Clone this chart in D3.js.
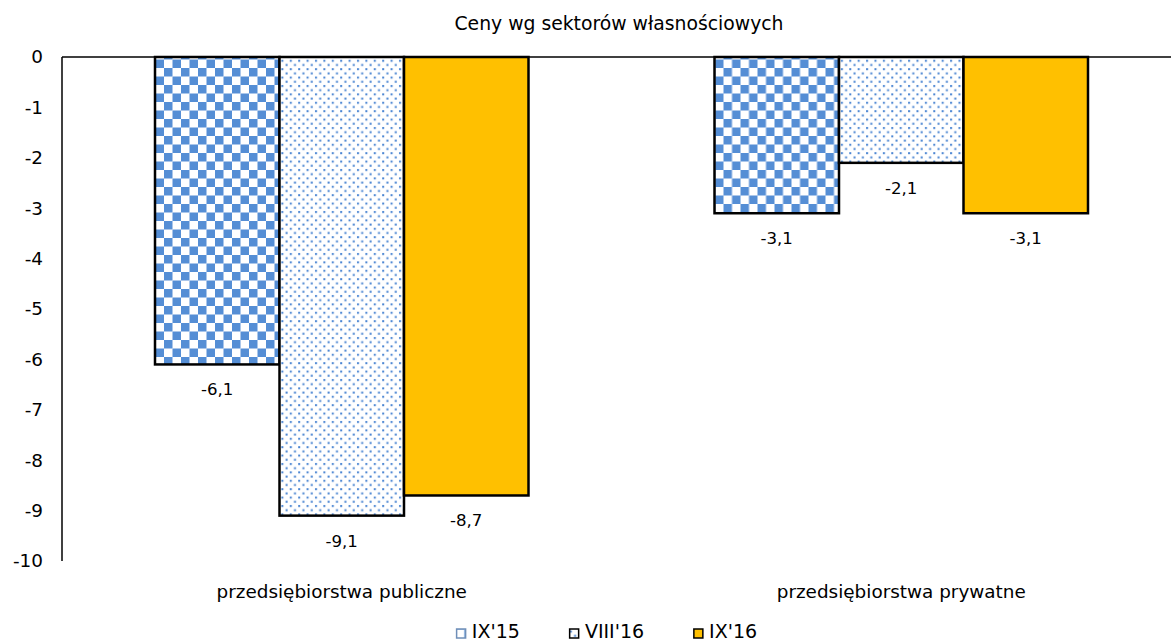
<!DOCTYPE html>
<html>
<head>
<meta charset="utf-8">
<script src="https://cdn.jsdelivr.net/npm/d3@7"></script>
<style>
  html, body { margin: 0; padding: 0; background: #fff; }
  svg { display: block; font-family: "DejaVu Sans", sans-serif; }
</style>
</head>
<body>
<svg id="chart" width="1171" height="642"></svg>
<script>
// Price change by ownership sector
const title = "Ceny wg sektorów własnościowych";
const categories = ["przedsiębiorstwa publiczne", "przedsiębiorstwa prywatne"];
const seriesNames = ["IX'15", "VIII'16", "IX'16"];
const valuesIX15 = [-6.1, -3.1];
const valuesVIII16 = [-9.1, -2.1];
const valuesIX16 = [-8.7, -3.1];
const yTicks = [0, -1, -2, -3, -4, -5, -6, -7, -8, -9, -10];

const seriesValues = [valuesIX15, valuesVIII16, valuesIX16];
const fills = ["url(#checker)", "url(#dots)", "#FFC000"];
const blue = "#558ED5";

const svg = d3.select("#chart");
const fmt = v => String(v).replace(".", ",");

// Fill patterns
const defs = svg.append("defs");
const checker = defs.append("pattern").attr("id", "checker")
  .attr("patternUnits", "userSpaceOnUse").attr("width", 17).attr("height", 17);
checker.append("rect").attr("width", 17).attr("height", 17).attr("fill", "#fff");
checker.append("rect").attr("width", 8.5).attr("height", 8.5).attr("fill", blue);
checker.append("rect").attr("x", 8.5).attr("y", 8.5).attr("width", 8.5).attr("height", 8.5).attr("fill", blue);

const dots = defs.append("pattern").attr("id", "dots")
  .attr("patternUnits", "userSpaceOnUse").attr("width", 8.4).attr("height", 8.4);
dots.append("rect").attr("width", 8.4).attr("height", 8.4).attr("fill", "#fff");
dots.append("rect").attr("x", 1).attr("y", 1).attr("width", 2).attr("height", 2).attr("fill", "#4a85d2");
dots.append("rect").attr("x", 5.2).attr("y", 5.2).attr("width", 2).attr("height", 2).attr("fill", "#4a85d2");

// Scales
const y = d3.scaleLinear().domain([0, -10]).range([57, 561]);
const x0 = d3.scaleBand().domain(categories).range([62, 1181]).paddingInner(0).paddingOuter(0);
const x1 = d3.scaleBand().domain(seriesNames).range([0, x0.bandwidth()]).paddingInner(0).paddingOuter(0.747);

// Title
svg.append("text").attr("x", 619).attr("y", 30).attr("text-anchor", "middle")
  .attr("font-size", 18.8).attr("fill", "#000").text(title);

// Y axis labels
const yAxis = d3.axisLeft(y).tickValues(yTicks).tickSize(0).tickPadding(19)
  .tickFormat(d => fmt(d));
const gy = svg.append("g").attr("transform", "translate(62,0)").call(yAxis);
gy.select(".domain").remove();
gy.selectAll("text").attr("font-size", 18.4).attr("font-family", "DejaVu Sans, sans-serif").attr("fill", "#000");

// Bars
const groups = svg.append("g").selectAll("g").data(categories).join("g")
  .attr("transform", d => `translate(${x0(d)},0)`);

groups.each(function(cat, ci) {
  const g = d3.select(this);
  seriesNames.forEach((s, si) => {
    const v = seriesValues[si][ci];
    g.append("rect")
      .attr("x", x1(s)).attr("y", y(0))
      .attr("width", x1.bandwidth()).attr("height", y(v) - y(0))
      .attr("fill", fills[si]).attr("stroke", "#000").attr("stroke-width", 2.5);
    g.append("text")
      .attr("x", x1(s) + x1.bandwidth() / 2).attr("y", y(v) + 31)
      .attr("text-anchor", "middle").attr("font-size", 16.6).attr("fill", "#000")
      .text(fmt(v));
  });
});

// Zero line and vertical axis line
svg.append("line").attr("x1", 62).attr("x2", 1171).attr("y1", y(0)).attr("y2", y(0))
  .attr("stroke", "#000").attr("stroke-width", 1.5);
svg.append("line").attr("x1", 62).attr("x2", 62).attr("y1", y(0)).attr("y2", y(-10))
  .attr("stroke", "#000").attr("stroke-width", 1.5);

// Category labels
svg.append("g").selectAll("text").data(categories).join("text")
  .attr("x", d => x0(d) + x0.bandwidth() / 2).attr("y", 598)
  .attr("text-anchor", "middle").attr("font-size", 18.4).attr("fill", "#000")
  .text(d => d);

// Legend
const legend = svg.append("g");
const items = legend.selectAll("g").data(seriesNames).join("g");
items.append("rect").attr("x", 0.75).attr("y", -9).attr("width", 9).attr("height", 9)
  .attr("fill", (d, i) => fills[i])
  .attr("stroke", (d, i) => i === 0 ? "#6f8fb8" : "#000").attr("stroke-width", 1.5);
items.append("text").attr("x", 16).attr("y", 0).attr("font-size", 19).attr("fill", "#000")
  .text(d => d);
const widths = [];
items.each(function() {
  widths.push(16 + d3.select(this).select("text").node().getComputedTextLength());
});
const gap = 49;
const total = d3.sum(widths) + gap * (widths.length - 1);
let start = 606.5 - total / 2;
items.attr("transform", (d, i) => {
  const t = `translate(${start},638)`;
  start += widths[i] + gap;
  return t;
});
</script>
</body>
</html>
